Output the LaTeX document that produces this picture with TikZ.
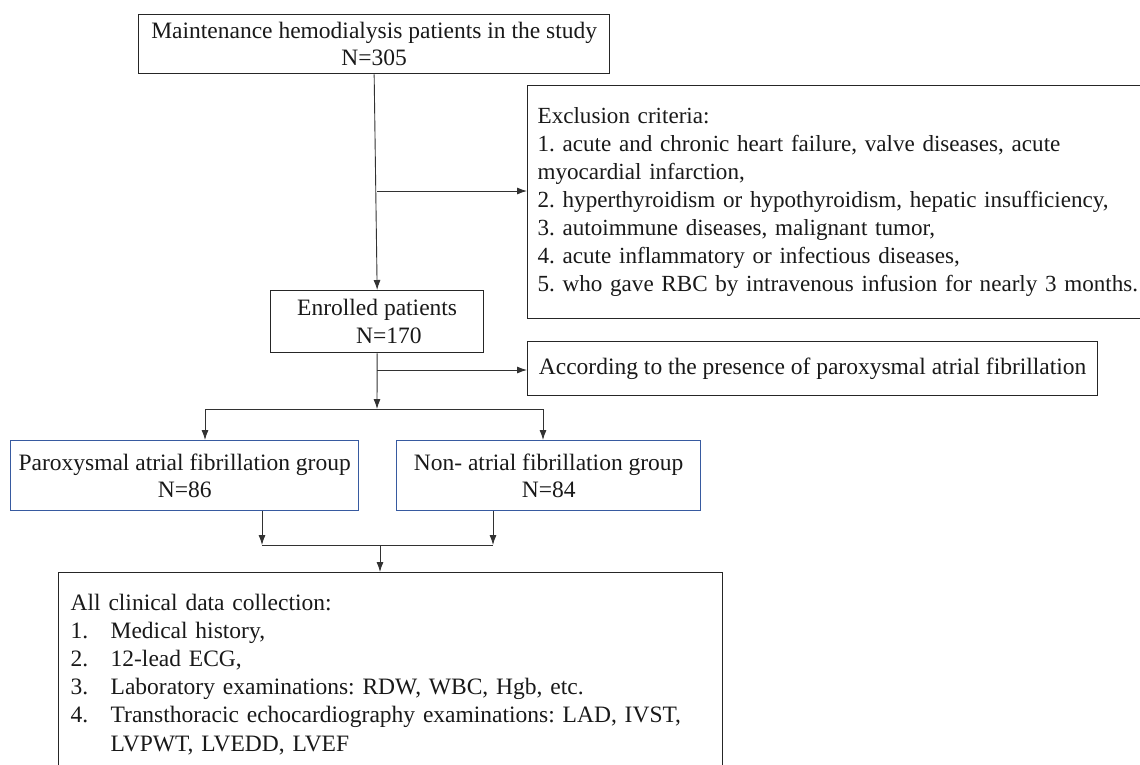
\documentclass[tikz,border=0pt]{standalone}
\usepackage{fontspec}
\setmainfont{Liberation Serif}
\usetikzlibrary{arrows.meta}
\definecolor{grpblue}{RGB}{55,90,160}
\definecolor{linegray}{RGB}{50,50,50}
\frenchspacing
\begin{document}
\begin{tikzpicture}[x=1pt,y=-1pt,
  every node/.style={font=\fontsize{23.5}{27.5}\selectfont, text=black!90},
  box/.style={draw=black!85, line width=1.3pt, inner sep=0pt, anchor=north west},
  grpbox/.style={box, draw=grpblue},
  conn/.style={draw=linegray, line width=0.9pt},
  arr/.style={conn, -{Latex[length=10pt,width=7pt]}}]
\useasboundingbox (0,0) rectangle (1140,764);
\clip (0,0) rectangle (1140,764);
\fill[white] (0,0) rectangle (1140,764);

\node[box, minimum width=471, minimum height=59, align=center] (top) at (138,14)
  {Maintenance hemodialysis patients in the study\\N=305};

\node[box, text width=650, inner xsep=10, minimum height=233, align=left,
      font=\fontsize{23.1}{28}\selectfont] (excl) at (527,85)
  {Exclusion criteria:\\
   1. acute and chronic heart failure, valve diseases, acute\\
   myocardial infarction,\\
   2. hyperthyroidism or hypothyroidism, hepatic insufficiency,\\
   3. autoimmune diseases, malignant tumor,\\
   4. acute inflammatory or infectious diseases,\\
   5. who gave RBC by intravenous infusion for nearly 3 months.\\[4pt]};

\node[box, minimum width=213, minimum height=62, align=center] (enr) at (270,290)
  {Enrolled patients\\\hspace*{1em}N=170};

\node[box, minimum width=570, minimum height=54] (acc) at (527,341)
  {According to the presence of paroxysmal atrial fibrillation};

\node[grpbox, minimum width=348, minimum height=70, align=center] (par) at (10,440)
  {Paroxysmal atrial fibrillation group\\N=86};

\node[grpbox, minimum width=304, minimum height=70, align=center] (non) at (396,440)
  {Non- atrial fibrillation group\\N=84};

\node[box, text width=640, inner xsep=12, minimum height=203, align=left,
      font=\fontsize{23.5}{28.2}\selectfont] (data) at (58,572)
  {All clinical data collection:\\
   \makebox[40pt][l]{1.}Medical history,\\
   \makebox[40pt][l]{2.}12-lead ECG,\\
   \makebox[40pt][l]{3.}Laboratory examinations: RDW, WBC, Hgb, etc.\\
   \makebox[40pt][l]{4.}Transthoracic echocardiography examinations: LAD, IVST,\\
   \hspace*{40pt}LVPWT, LVEDD, LVEF};

% connectors
\coordinate (j1) at (377,191);
\coordinate (j2) at (377,370);
\coordinate (sp) at (377,409);
\coordinate (spl) at (205,409);
\coordinate (spr) at (543,409);
\coordinate (ml) at (262,545);
\coordinate (mr) at (493,545);
\coordinate (mc) at (380,545);

\draw[arr] (top.south) -- (enr.north);
\draw[arr] (j1) -- (excl.west |- j1);
\draw[arr] (enr.south) -- (sp);
\draw[arr] (j2) -- (acc.west |- j2);
\draw[conn] (spl) -- (spr);
\draw[arr] (spl) -- (spl |- par.north);
\draw[arr] (spr) -- (spr |- non.north);
\draw[arr] (ml |- par.south) -- (ml);
\draw[arr] (mr |- non.south) -- (mr);
\draw[conn] (ml) -- (mr);
\draw[arr] (mc) -- (mc |- data.north);
\end{tikzpicture}
\end{document}
